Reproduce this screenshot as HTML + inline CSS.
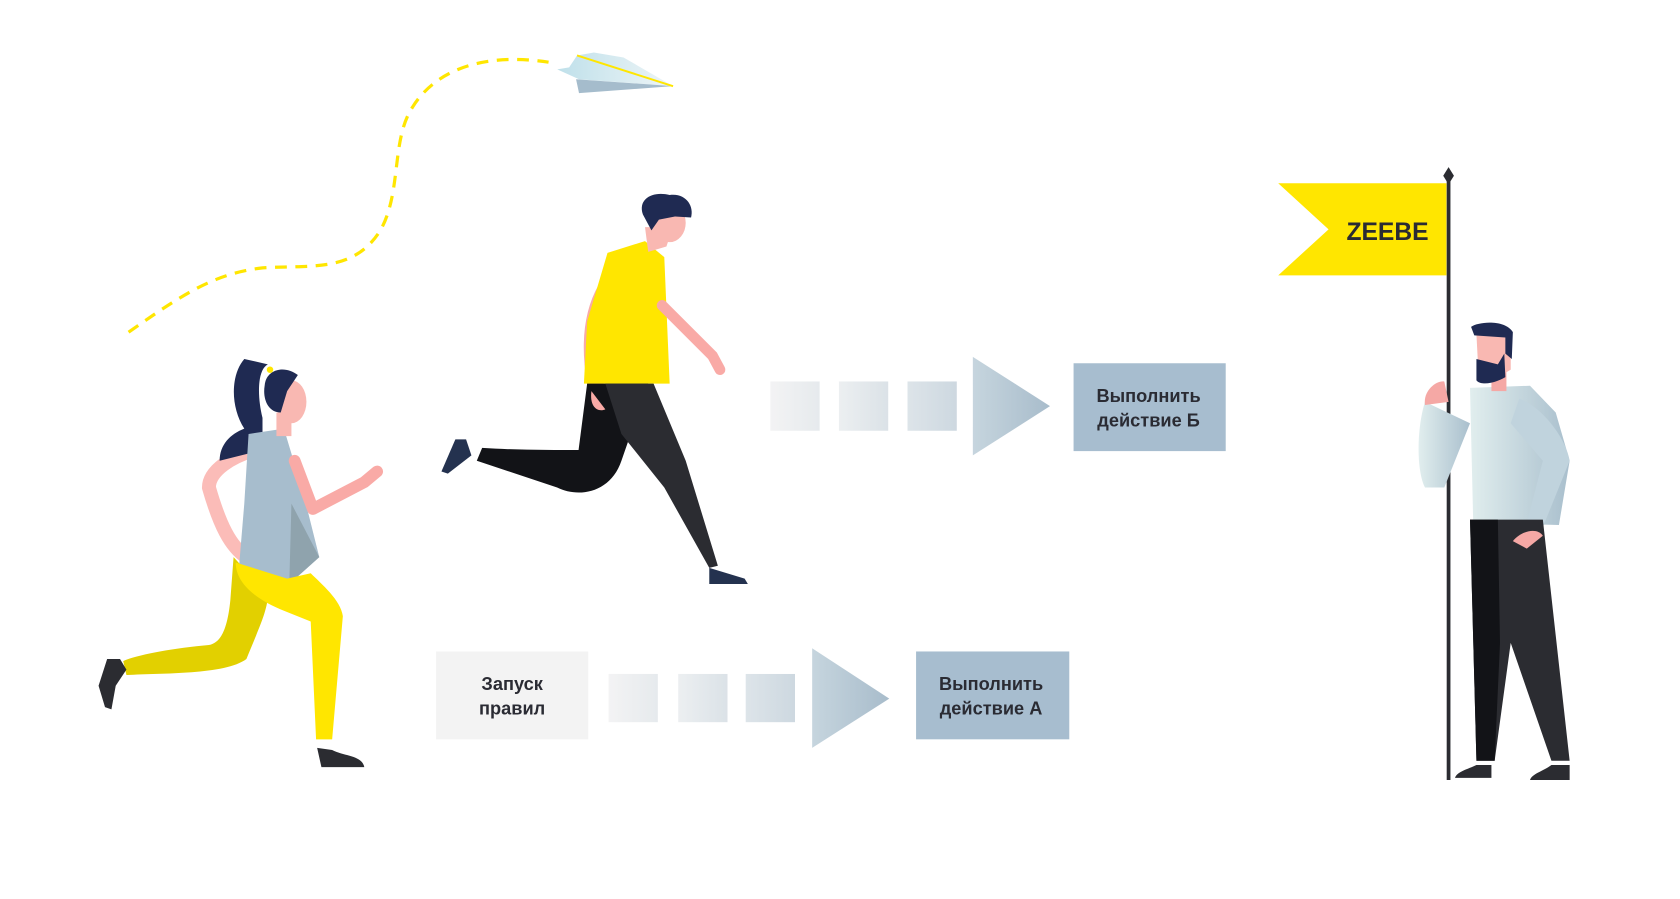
<!DOCTYPE html>
<html><head><meta charset="utf-8"><style>
html,body{margin:0;padding:0;background:#fff;width:1680px;height:899px;overflow:hidden}
svg{display:block}
text{font-family:"Liberation Sans",sans-serif;font-weight:bold;fill:#2a2b33}
</style></head><body>
<svg width="1680" height="899" viewBox="0 0 1568 839" xmlns="http://www.w3.org/2000/svg">
<defs>
<linearGradient id="sq" x1="0" x2="1"><stop offset="0" stop-color="#f3f3f4"/><stop offset="1" stop-color="#e6eaed"/></linearGradient>
<linearGradient id="sq2" x1="0" x2="1"><stop offset="0" stop-color="#eceff1"/><stop offset="1" stop-color="#dbe2e7"/></linearGradient>
<linearGradient id="sq3" x1="0" x2="1"><stop offset="0" stop-color="#dde4e9"/><stop offset="1" stop-color="#cdd8e0"/></linearGradient>
<linearGradient id="tri" x1="0" x2="1"><stop offset="0" stop-color="#c6d5de"/><stop offset="1" stop-color="#a8bccb"/></linearGradient>
<linearGradient id="shirt" x1="0" x2="1"><stop offset="0" stop-color="#e1eeee"/><stop offset="1" stop-color="#a9bfcd"/></linearGradient>
<linearGradient id="plane" x1="0" x2="1"><stop offset="0" stop-color="#bfe0ea"/><stop offset="1" stop-color="#eef5f7"/></linearGradient>
</defs>

<path d="M120,310 C170,275 200,255 245,250 C290,247 330,255 355,215 C375,180 365,130 385,100 C410,60 460,50 512,58" fill="none" stroke="#ffe600" stroke-width="3" stroke-dasharray="11,8"/>
<g transform="scale(0.9238)">
<polygon points="583,56 600,53 630,58 680,87 585,80 563,70 575,68" fill="url(#plane)"/>
<polygon points="582,80 680,87 585,94" fill="#a5bccc"/>
<line x1="583" y1="56" x2="680" y2="87" stroke="#ffe600" stroke-width="2"/>
</g>

<rect x="407" y="608" width="142" height="82" fill="#f3f3f3"/>
<text x="478" y="644" font-size="17" text-anchor="middle">Запуск</text>
<text x="478" y="667" font-size="17" text-anchor="middle">правил</text>
<rect x="568" y="629" width="46" height="45" fill="url(#sq)"/>
<rect x="633" y="629" width="46" height="45" fill="url(#sq2)"/>
<rect x="696" y="629" width="46" height="45" fill="url(#sq3)"/>
<polygon points="758,605 830,652 758,698" fill="url(#tri)"/>
<rect x="855" y="608" width="143" height="82" fill="#a7bdcf"/>
<text x="925" y="644" font-size="17" text-anchor="middle">Выполнить</text>
<text x="925" y="667" font-size="17" text-anchor="middle">действие А</text>

<rect x="719" y="356" width="46" height="46" fill="url(#sq)"/>
<rect x="783" y="356" width="46" height="46" fill="url(#sq2)"/>
<rect x="847" y="356" width="46" height="46" fill="url(#sq3)"/>
<polygon points="908,333 980,379 908,425" fill="url(#tri)"/>
<rect x="1002" y="339" width="142" height="82" fill="#a7bdcf"/>
<text x="1072" y="375" font-size="17" text-anchor="middle">Выполнить</text>
<text x="1072" y="398" font-size="17" text-anchor="middle">действие Б</text>

<polygon points="1193,171 1350,171 1350,257 1193,257 1240,214" fill="#ffe600"/>
<text x="1295" y="224" font-size="23" text-anchor="middle">ZEEBE</text>
<line x1="1352" y1="165" x2="1352" y2="728" stroke="#2b2c31" stroke-width="3.5"/>
<polygon points="1352,156 1357,164 1352,172 1347,164" fill="#2b2c31"/>

<path d="M1330,375 C1322,400 1322,440 1330,455 L1348,455 L1372,395 Z" fill="url(#shirt)"/>
<polygon points="1372,362 1428,360 1452,385 1465,430 1455,490 1375,488" fill="url(#shirt)"/>
<path d="M1418,372 C1440,380 1462,410 1465,430 L1440,492 L1425,488 L1440,430 L1410,395 Z" fill="#c0d3dd"/>
<path d="M1330,378 C1328,365 1340,355 1348,356 L1352,375 Z" fill="#f5a8a5"/>
<rect x="1392" y="345" width="14" height="20" fill="#f5a8a5"/>
<path d="M1378,312 L1410,310 L1410,345 C1400,352 1390,352 1380,350 Z" fill="#f9b8b2"/>
<path d="M1373,305 C1380,300 1405,298 1412,310 L1411,335 L1405,330 L1405,315 L1376,313 Z" fill="#1f2a52"/>
<path d="M1378,335 L1398,340 L1404,330 L1405,352 C1395,358 1382,360 1378,355 Z" fill="#1f2a52"/>
<polygon points="1372,485 1440,485 1465,710 1448,710 1410,600 1395,710 1378,710" fill="#2b2c31"/>
<polygon points="1372,485 1398,485 1400,600 1395,710 1378,710" fill="#121317"/>
<path d="M1412,505 C1420,495 1435,492 1440,500 L1425,512 Z" fill="#f5a8a5"/>
<path d="M1358,726 L1392,726 L1392,714 L1378,714 C1370,718 1360,720 1358,726Z" fill="#2b2c31"/>
<path d="M1428,728 L1465,728 L1465,714 L1448,714 C1440,720 1430,722 1428,728Z" fill="#2b2c31"/>

<path d="M565,270 C548,300 550,340 560,378" fill="none" stroke="#f9aaa6" stroke-width="15" stroke-linecap="round"/>
<polygon points="567,236 602,225 620,240 625,358 545,358 548,300" fill="#ffe600"/>
<path d="M618,285 L665,332 L672,345" fill="none" stroke="#f9aaa6" stroke-width="10" stroke-linecap="round"/>
<polygon points="602,212 628,212 622,230 605,235" fill="#f9b8b2"/>
<ellipse cx="625" cy="208" rx="15" ry="18" fill="#f9b8b2"/>
<path d="M600,200 C595,185 610,178 625,182 C640,180 648,192 645,203 L630,202 L615,205 L608,215 Z" fill="#1f2a52"/>
<path d="M548,358 L605,358 L580,430 C570,460 540,465 520,455 L445,430 L450,418 C480,420 515,420 540,420 Z" fill="#121317"/>
<polygon points="565,358 610,358 640,430 670,528 662,530 620,455 580,405" fill="#2b2c31"/>
<path d="M552,365 C550,380 558,385 565,382" fill="#f9aaa6"/>
<path d="M425,410 L435,410 L440,425 L418,442 L412,440 Z" fill="#24324f"/>
<path d="M662,530 L695,540 L698,545 L662,545 Z" fill="#24324f"/>

<path d="M245,418 C215,425 195,440 195,455 C205,490 215,510 230,520" fill="none" stroke="#fbbcb8" stroke-width="13" stroke-linecap="round"/>
<path d="M228,335 C215,350 215,380 228,400 C215,405 205,415 205,430 L245,420 L245,390 C240,370 240,345 250,340 Z" fill="#1f2a52"/>
<polygon points="232,405 265,400 283,460 298,520 270,545 222,542 228,470" fill="#a7bdcd"/>
<polygon points="272,470 298,520 270,545" fill="#8fa3ad"/>
<path d="M275,430 L292,475 L340,450 L352,440" fill="none" stroke="#f9aaa6" stroke-width="11" stroke-linecap="round" stroke-linejoin="round"/>
<rect x="258" y="385" width="14" height="22" fill="#f9b8b2"/>
<ellipse cx="272" cy="375" rx="14" ry="20" fill="#f9b8b2"/>
<path d="M247,360 C248,345 265,340 278,350 L268,365 L262,385 C250,385 245,372 247,360Z" fill="#1f2a52"/>
<circle cx="252" cy="345" r="3" fill="#ffe600"/>
<path d="M218,520 L215,560 C212,590 205,600 195,602 C160,605 125,612 115,617 L118,630 C150,628 210,630 230,615 C240,590 250,570 250,555 Z" fill="#e2d000"/>
<path d="M220,525 C220,545 240,560 265,570 L290,580 L295,690 L310,690 L320,575 C318,560 300,545 290,535 L268,540 Z" fill="#ffe600"/>
<path d="M100,615 L112,615 L118,625 L108,640 L104,662 L98,660 L92,640 Z" fill="#2b2c31"/>
<path d="M296,698 L300,716 L340,716 C338,705 322,706 310,700 Z" fill="#2b2c31"/>
</svg>
</body></html>
